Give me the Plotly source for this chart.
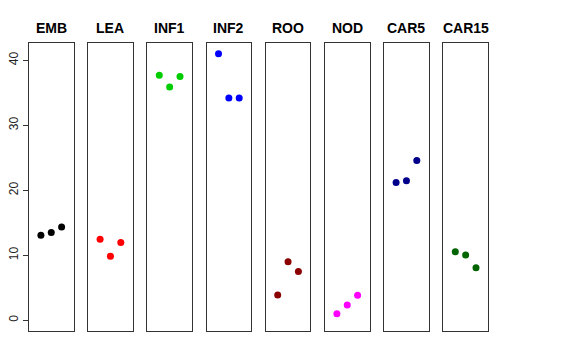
import plotly.graph_objects as go

tissues = ["EMB", "LEA", "INF1", "INF2", "ROO", "NOD", "CAR5", "CAR15"]
colors = ["#000000", "#FF0000", "#00CD00", "#0000FF", "#8B0000", "#FF00FF", "#00008B", "#006400"]
rep = [1, 2, 3]
emb = [13.1, 13.5, 14.35]
lea = [12.45, 9.85, 11.95]
inf1 = [37.7, 35.9, 37.5]
inf2 = [41.0, 34.2, 34.2]
roo = [3.9, 9.0, 7.5]
nod = [1.0, 2.35, 3.85]
car5 = [21.2, 21.45, 24.6]
car15 = [10.55, 10.05, 8.1]
values = [emb, lea, inf1, inf2, roo, nod, car5, car15]
yticks = [0, 10, 20, 30, 40]

W, H = 576, 360
fig = go.Figure()
left0, pw, step = 29.0, 44.5, 59.2
top_px, bot_px = 43.0, 331.0
for i, (name, col, vals) in enumerate(zip(tissues, colors, values)):
    n = i + 1
    xa = "x" if n == 1 else f"x{n}"
    ya = "y" if n == 1 else f"y{n}"
    fig.add_trace(go.Scatter(x=rep, y=vals, mode="markers", xaxis=xa, yaxis=ya,
                             marker=dict(color=col, size=7), showlegend=False))
    x0 = (left0 + i * step) / W
    x1 = (left0 + i * step + pw) / W
    xkey = "xaxis" if n == 1 else f"xaxis{n}"
    ykey = "yaxis" if n == 1 else f"yaxis{n}"
    fig.layout[xkey] = dict(domain=[x0, x1], range=[-0.15, 4.15], showgrid=False,
                            zeroline=False, showticklabels=False, ticks="",
                            showline=True, mirror=True, linecolor="#333333", linewidth=1,
                            anchor=ya, fixedrange=True, automargin=False)
    yd = dict(domain=[1 - bot_px / H, 1 - top_px / H], range=[-1.65, 42.66], showgrid=False,
              zeroline=False, showline=True, mirror=True, linecolor="#333333", linewidth=1,
              anchor=xa, fixedrange=True, automargin=False)
    if n == 1:
        yd.update(tickvals=yticks, ticktext=[str(t) for t in yticks], ticks="outside",
                  ticklen=5, tickcolor="#333333", tickangle=-90,
                  tickfont=dict(family="Liberation Sans, Arial, sans-serif", size=12, color="#222222"))
    else:
        yd.update(showticklabels=False, ticks="")
    fig.layout[ykey] = yd
    fig.add_annotation(text=f"<b>{name}</b>", x=(x0 + x1) / 2, y=1 - 28 / H,
                       xref="paper", yref="paper", showarrow=False,
                       xanchor="center", yanchor="middle",
                       font=dict(family="Liberation Sans, Arial, sans-serif", size=14, color="#000000"))

fig.update_layout(width=W, height=H, margin=dict(l=0, r=0, t=0, b=0),
                  plot_bgcolor="white", paper_bgcolor="white", hovermode=False)
fig.write_html("out.html", config={"displayModeBar": False, "staticPlot": True},
               post_script="document.body.style.margin='0';")
